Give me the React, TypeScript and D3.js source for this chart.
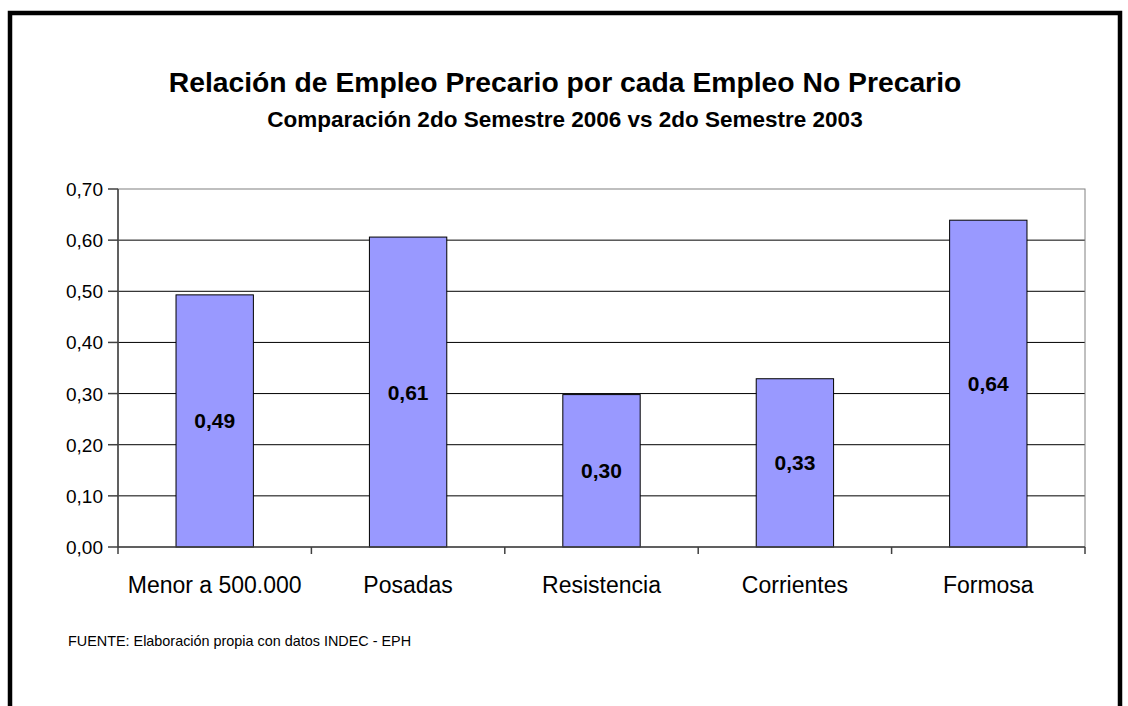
import React from "react";
import * as d3 from "d3";

const categories = ["Menor a 500.000", "Posadas", "Resistencia", "Corrientes", "Formosa"];
const values = [0.493, 0.606, 0.298, 0.329, 0.639];
const valueLabels = ["0,49", "0,61", "0,30", "0,33", "0,64"];
const yTicks = [0, 0.1, 0.2, 0.3, 0.4, 0.5, 0.6, 0.7];

const W = 1128;
const H = 706;
const left = 118;
const right = 1085;
const top = 189;
const bottom = 547;

export default function App() {
  const x = d3.scaleBand<string>().domain(categories).range([left, right]).paddingInner(0).paddingOuter(0);
  const y = d3.scaleLinear().domain([0, 0.7]).range([bottom, top]);
  const bw = x.bandwidth() * 0.4;
  const fmt = (v: number) => v.toFixed(2).replace(".", ",");
  const font = "Arial, 'Liberation Sans', sans-serif";
  return (
    <svg
      width={W}
      height={H}
      style={{ position: "absolute", left: 0, top: 0, background: "#fff" }}
      fontFamily={font}
    >
      <rect x={0} y={0} width={W} height={H} fill="#fff" />
      <path d="M10,706 L10,13 L1120,13 L1120,706" fill="none" stroke="#000" strokeWidth={4.5} />
      <text x={565} y={92} textAnchor="middle" fontSize={28.3} fontWeight="bold">
        Relación de Empleo Precario por cada Empleo No Precario
      </text>
      <text x={565} y={127} textAnchor="middle" fontSize={22.5} fontWeight="bold">
        Comparación 2do Semestre 2006 vs 2do Semestre 2003
      </text>
      {yTicks.slice(1, -1).map((t) => (
        <line key={t} x1={left} x2={right} y1={y(t)} y2={y(t)} stroke="#000" strokeWidth={1} />
      ))}
      <rect x={left} y={top} width={right - left} height={bottom - top} fill="none" stroke="#808080" strokeWidth={1} />
      {categories.map((c, i) => {
        const cx = (x(c) as number) + x.bandwidth() / 2;
        return (
          <g key={c}>
            <rect
              x={cx - bw / 2}
              y={y(values[i])}
              width={bw}
              height={y(0) - y(values[i])}
              fill="#9999ff"
              stroke="#000"
              strokeWidth={1}
            />
            <text
              x={cx}
              y={(y(values[i]) + y(0)) / 2 + 7.5}
              textAnchor="middle"
              fontSize={21}
              fontWeight="bold"
            >
              {valueLabels[i]}
            </text>
            <text x={cx} y={593} textAnchor="middle" fontSize={23}>
              {c}
            </text>
          </g>
        );
      })}
      <line x1={left} x2={left} y1={top} y2={bottom + 7} stroke="#404040" strokeWidth={1.5} />
      <line x1={left} x2={right} y1={bottom} y2={bottom} stroke="#404040" strokeWidth={1.5} />
      {yTicks.map((t) => (
        <g key={t}>
          <line x1={left - 10} x2={left} y1={y(t)} y2={y(t)} stroke="#404040" strokeWidth={1.5} />
          <text x={left - 15} y={y(t) + 7} textAnchor="end" fontSize={19}>
            {fmt(t)}
          </text>
        </g>
      ))}
      {categories.map((c, i) => {
        const bx = (x(c) as number) + x.bandwidth();
        return <line key={"t" + i} x1={bx} x2={bx} y1={bottom} y2={bottom + 7} stroke="#404040" strokeWidth={1.5} />;
      })}
      <text x={68} y={646} fontSize={14.4}>
        FUENTE: Elaboración propia con datos INDEC - EPH
      </text>
    </svg>
  );
}
